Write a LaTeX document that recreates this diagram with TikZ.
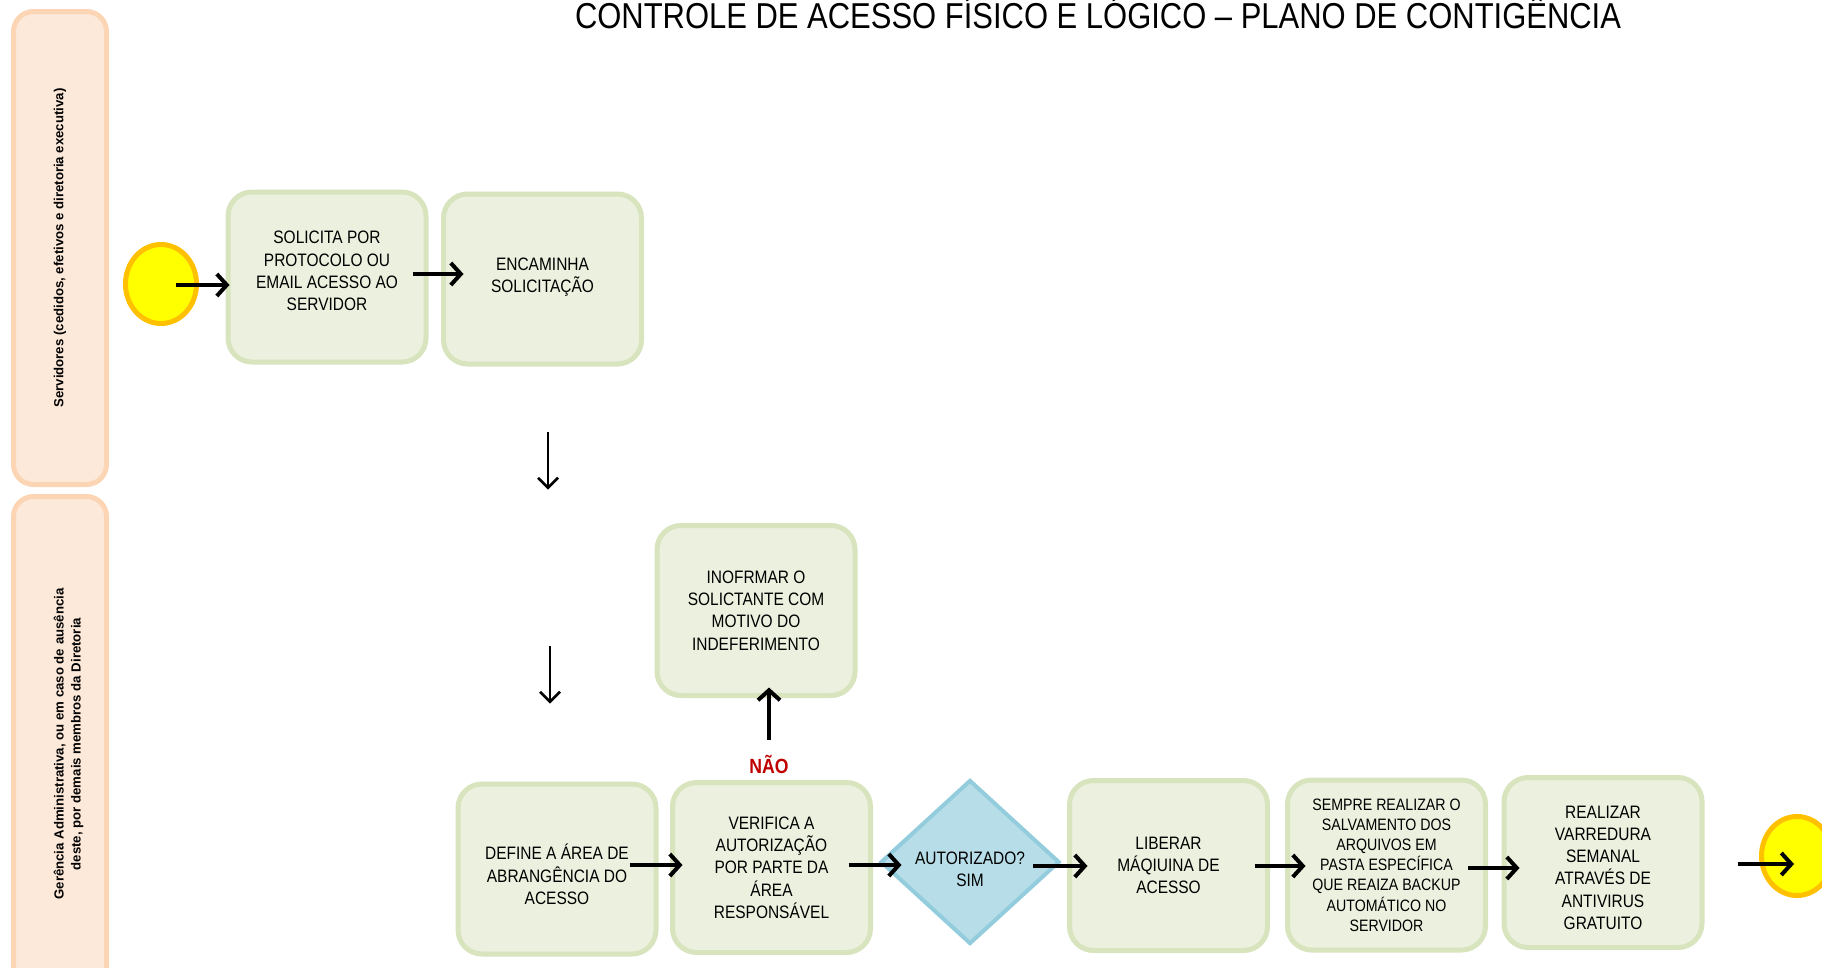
\documentclass[tikz,border=0pt]{standalone}
\usepackage{fontspec}
\setmainfont{Liberation Sans}
\newfontfamily\narrowfont[FakeStretch=0.86]{Liberation Sans}
\usetikzlibrary{shapes.geometric,arrows.meta,calc}

\definecolor{boxfill}{HTML}{EBF1DE}
\definecolor{boxline}{HTML}{D7E4BD}
\definecolor{lanefill}{HTML}{FDE9D9}
\definecolor{laneline}{HTML}{FCD5B4}
\definecolor{eventfill}{HTML}{FFFF00}
\definecolor{eventline}{HTML}{FFC000}
\definecolor{gatefill}{HTML}{B7DEE8}
\definecolor{gateline}{HTML}{93CDDD}
\definecolor{naored}{HTML}{C00000}

\begin{document}
\begin{tikzpicture}[x=1pt,y=-1pt]
      \useasboundingbox (0,0) rectangle (1822,967);

      \node[anchor=base, inner sep=0pt, font=\narrowfont\fontsize{36}{40}\selectfont] (titulo) at (1098,28.5)
        {CONTROLE DE ACESSO FÍSICO E LÓGICO – PLANO DE CONTIGÊNCIA};

      \begin{scope}[every node/.style={rectangle, rounded corners=20pt, draw=laneline, fill=lanefill,
          line width=5pt, rotate=90, minimum height=93pt, inner sep=0pt, align=center,
          font=\bfseries\fontsize{13.2}{17}\selectfont}]
        \node[minimum width=473pt] (lane1) at (60,248) {Servidores (cedidos, efetivos e diretoria executiva)};
        \node[minimum width=495pt, text height=44pt, text depth=3pt] (lane2) at (60,744)
          {Gerência Administrativa, ou em caso de ausência\\deste, por demais membros da Diretoria};
      \end{scope}

      \begin{scope}[every node/.style={ellipse, draw=eventline, fill=eventfill, line width=5pt,
          minimum width=71pt, minimum height=79pt, inner sep=0pt}]
        \node (inicio) at (161,284) {};
        \node (fim)    at (1797,856) {};
      \end{scope}

      \begin{scope}[every node/.style={rectangle, rounded corners=24pt, draw=boxline, fill=boxfill,
          line width=5pt, minimum width=198pt, minimum height=170pt, inner sep=0pt, align=center,
          font=\narrowfont\fontsize{18}{22.3}\selectfont}]
        \node[text depth=12pt] (solicita) at (327,277) {SOLICITA POR\\PROTOCOLO OU\\EMAIL ACESSO AO\\SERVIDOR};
        \node[text depth=8pt] (encaminha)  at (542.5,279)  {ENCAMINHA\\SOLICITAÇÃO};
        \node (informar)   at (756,610.5)  {INOFRMAR O\\SOLICTANTE COM\\MOTIVO DO\\INDEFERIMENTO};
        \node[text height=71pt, text depth=0pt] (define) at (557,869) {DEFINE A ÁREA DE\\ABRANGÊNCIA DO\\ACESSO};
        \node (verifica)   at (771.5,867.5) {VERIFICA A\\AUTORIZAÇÃO\\POR PARTE DA\\ÁREA\\RESPONSÁVEL};
        \node (liberar)    at (1168.5,865.5) {LIBERAR\\MÁQIUINA DE\\ACESSO};
        \node[font=\narrowfont\fontsize{16.5}{20.2}\selectfont] (sempre) at (1386.5,865)
          {SEMPRE REALIZAR O\\SALVAMENTO DOS\\ARQUIVOS EM\\PASTA ESPECÍFICA\\QUE REAIZA BACKUP\\AUTOMÁTICO NO\\SERVIDOR};
        \node[text height=134pt, text depth=0pt] (varredura) at (1603,862.5)
          {REALIZAR\\VARREDURA\\SEMANAL\\ATRAVÉS DE\\ANTIVIRUS\\GRATUITO};
      \end{scope}

      \node[diamond, draw=gateline, fill=gatefill, line width=4pt, minimum width=179pt, minimum height=164pt,
        inner sep=0pt, align=center, text height=49pt, text depth=0pt,
        font=\narrowfont\fontsize{18}{22.3}\selectfont] (autorizado) at (970,862)
        {AUTORIZADO?\\SIM};

      \begin{scope}[every edge/.style={draw, line width=4pt, -{Straight Barb[length=10pt,width=22pt]}}]
        \path ($(inicio)+(15,1)$)           edge ($(solicita.west)+(4,8)$);
        \path ($(solicita.east)+(-16,-3)$)  edge ($(encaminha.west)+(22.5,-5)$);
        \path ($(define.east)+(-29,-4)$)    edge ($(verifica.west)+(12.5,-2.5)$);
        \path ($(verifica.east)+(-24.5,-2.5)$) edge ($(autorizado.west)+(23,3)$);
        \path ($(verifica.north)+(-2.5,-40.5)$) edge node[at start, anchor=north, yshift=-14pt, inner sep=0pt,
          text=naored, font=\narrowfont\bfseries\fontsize{20.5}{24}\selectfont] {NÃO} ($(informar.south)+(13,-10.5)$);
        \path ($(autorizado)+(63,4)$)       edge ($(liberar.west)+(20.5,0.5)$);
        \path ($(liberar.east)+(-15.5,0.5)$) edge ($(sempre.west)+(20.5,1)$);
        \path ($(sempre.east)+(-20.5,3)$)   edge ($(varredura.west)+(18,5.5)$);
        \path ($(varredura.east)+(33,1.5)$) edge ($(fim)+(-3,8)$);
      \end{scope}

      \begin{scope}[every edge/.style={draw, line width=2.5pt, -{Straight Barb[length=10pt,width=20pt]}}]
        \path ($(encaminha.south)+(5.5,65)$) edge ($(encaminha.south)+(5.5,123)$);
        \path ($(define.north)+(-7,-136)$)   edge ($(define.north)+(-7,-78)$);
      \end{scope}

    \end{tikzpicture}
\end{document}
